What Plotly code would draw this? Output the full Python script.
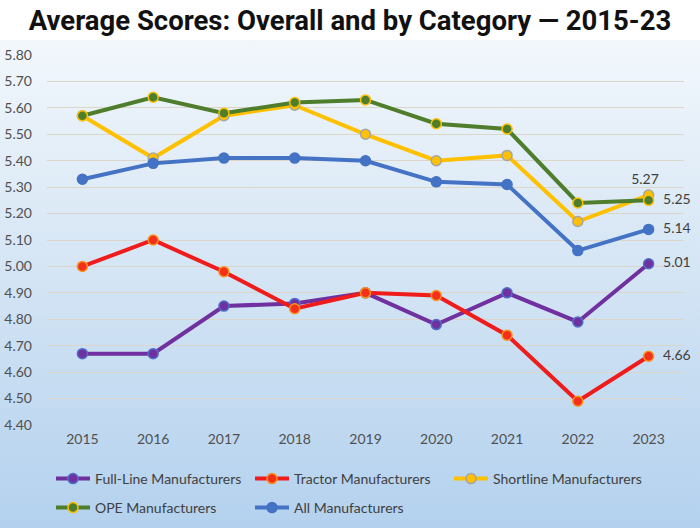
import base64
import plotly.graph_objects as go

years = ["2015", "2016", "2017", "2018", "2019", "2020", "2021", "2022", "2023"]
full_line = [4.67, 4.67, 4.85, 4.86, 4.90, 4.78, 4.90, 4.79, 5.01]
tractor = [5.00, 5.10, 4.98, 4.84, 4.90, 4.89, 4.74, 4.49, 4.66]
shortline = [5.57, 5.41, 5.57, 5.61, 5.50, 5.40, 5.42, 5.17, 5.27]
ope = [5.57, 5.64, 5.58, 5.62, 5.63, 5.54, 5.52, 5.24, 5.25]
all_mfr = [5.33, 5.39, 5.41, 5.41, 5.40, 5.32, 5.31, 5.06, 5.14]
y_ticks = [4.40, 4.50, 4.60, 4.70, 4.80, 4.90, 5.00, 5.10, 5.20, 5.30, 5.40, 5.50, 5.60, 5.70, 5.80]

W, H = 700, 528
ML, MR, MT, MB = 47, 16, 55, 103
PW, PH = W - ML - MR, H - MT - MB
NB = "\u00a0"

def cx(px):
    return px / W

def cy(py):
    return 1 - py / H

def last_label(vals, top):
    lab = f"{vals[-1]:.2f}"
    lab = lab + NB * 2 if top else NB * 2 + lab
    return [""] * (len(vals) - 1) + [lab]

series = [
    ("Full-Line Manufacturers", full_line, "#7030A0", "#7030A0", "#4F6FC8", "legend"),
    ("Tractor Manufacturers", tractor, "#F01B1B", "#F5301A", "#F7941D", "legend"),
    ("Shortline Manufacturers", shortline, "#FFC000", "#FFC000", "#A5A5A5", "legend"),
    ("OPE Manufacturers", ope, "#4E7D2C", "#4E7D2C", "#FFC000", "legend2"),
    ("All Manufacturers", all_mfr, "#4472C4", "#4472C4", "#4472C4", "legend2"),
]

fig = go.Figure()
for name, vals, lc, mfill, mline, leg in series:
    is_top = name.startswith("Shortline")
    fig.add_trace(go.Scatter(
        x=years, y=vals, name=name, legend=leg,
        mode="lines+markers+text",
        line=dict(color=lc, width=4),
        marker=dict(size=10, color=mfill, line=dict(color=mline, width=1.5)),
        text=last_label(vals, is_top),
        textposition="top center" if is_top else "middle right",
        textfont=dict(family="Lato", size=14, color="#404040"),
        cliponaxis=False, hoverinfo="skip",
    ))

svg = (
    '<svg xmlns="http://www.w3.org/2000/svg" width="100" height="100" preserveAspectRatio="none">'
    '<defs><linearGradient id="g" x1="0" y1="0" x2="0" y2="1">'
    '<stop offset="0" stop-color="#F2F7FC"/>'
    '<stop offset="0.5" stop-color="#D3E4F4"/>'
    '<stop offset="1" stop-color="#B3D1EE"/>'
    '</linearGradient></defs>'
    '<rect width="100" height="100" fill="url(#g)"/></svg>'
)
src = "data:image/svg+xml;base64," + base64.b64encode(svg.encode()).decode()

fig.add_layout_image(dict(
    source=src, xref="paper", yref="paper",
    x=-ML / PW, y=(H - MB - 40) / PH, sizex=W / PW, sizey=(H - 40) / PH,
    xanchor="left", yanchor="top", sizing="stretch", layer="below",
))

legend_font = dict(family="Lato", size=14, color="#404040")

fig.update_layout(
    template="plotly",
    width=W, height=H,
    margin=dict(l=ML, r=MR, t=MT, b=MB, autoexpand=False),
    paper_bgcolor="white", plot_bgcolor="rgba(0,0,0,0)",
    title=dict(
        text="Average Scores: Overall and by Category — 2015-23",
        x=cx(350), xref="container", y=cy(20), yref="container", yanchor="middle",
        xanchor="center",
        font=dict(family="Roboto", size=27.5, color="#111111", weight="bold"),
    ),
    xaxis=dict(
        type="category", range=[-0.5, 8.5], showgrid=False, zeroline=False,
        showline=False, ticks="", automargin=False,
        tickfont=dict(family="Lato", size=14, color="#505050"),
        ticklabelstandoff=4,
    ),
    yaxis=dict(
        range=[4.40, 5.80], tickvals=y_ticks, ticktext=[f"{v:.2f}" for v in y_ticks],
        showgrid=True, gridcolor="#DCD6CA", gridwidth=1, zeroline=False, showline=False,
        ticks="", automargin=False,
        tickfont=dict(family="Lato", size=14, color="#505050"),
        ticklabelstandoff=14,
    ),
    legend=dict(
        orientation="h", x=cx(51), y=cy(479), xref="container", yref="container",
        xanchor="left", yanchor="middle",
        entrywidth=150, entrywidthmode="pixels", bgcolor="rgba(0,0,0,0)",
        font=legend_font, itemwidth=34,
    ),
    legend2=dict(
        orientation="h", x=cx(51), y=cy(508), xref="container", yref="container",
        xanchor="left", yanchor="middle",
        entrywidth=150, entrywidthmode="pixels", bgcolor="rgba(0,0,0,0)",
        font=legend_font, itemwidth=34,
    ),
    showlegend=True,
    hovermode=False,
)

fig.write_html(
    "out.html",
    config={"displayModeBar": False, "staticPlot": True},
    post_script="document.body.style.margin='0';",
)
